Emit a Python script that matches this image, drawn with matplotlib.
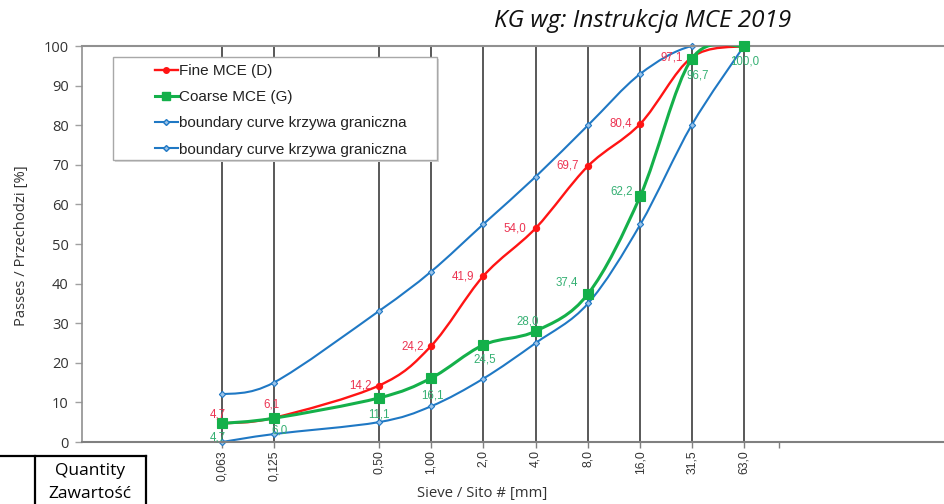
import matplotlib
matplotlib.use("Agg")
import matplotlib.pyplot as plt
import numpy as np
from matplotlib.path import Path
from matplotlib.patches import PathPatch, Rectangle
from matplotlib.lines import Line2D
from matplotlib.ticker import NullLocator, FixedLocator, FixedFormatter

# sieve sizes [mm] and their labels
sieves = [0.063, 0.125, 0.5, 1.0, 2.0, 4.0, 8.0, 16.0, 31.5, 63.0]
sieve_labels = ["0,063", "0,125", "0,50", "1,00", "2,0", "4,0", "8,0", "16,0", "31,5", "63,0"]

# passing [%]
fine_mce = [4.7, 6.1, 14.2, 24.2, 41.9, 54.0, 69.7, 80.4, 97.1, 100.0]
coarse_mce = [4.7, 6.0, 11.1, 16.1, 24.5, 28.0, 37.4, 62.2, 96.7, 100.0]
upper_bound = [12, 15, 33, 43, 55, 67, 80, 93, 100, 100]
lower_bound = [0, 2, 5, 9, 16, 25, 35, 55, 80, 100]

RED = "#ff1414"
GREEN = "#14b04a"
BLUE = "#1f78c4"
RED_TXT = "#ec3452"
GREEN_TXT = "#35b073"

W, H = 944, 504
PPX = 0.72  # points per pixel at dpi 100


def smooth_path(xs, ys):
    # excel-like smoothed line: catmull-rom -> cubic bezier, in log2(x) space
    lx = np.log2(xs)
    y = np.asarray(ys, dtype=float)
    n = len(lx)
    verts = [(xs[0], y[0])]
    codes = [Path.MOVETO]
    for i in range(n - 1):
        i0 = max(i - 1, 0)
        i3 = min(i + 2, n - 1)
        c1 = (lx[i] + (lx[i + 1] - lx[i0]) / 6, y[i] + (y[i + 1] - y[i0]) / 6)
        c2 = (lx[i + 1] - (lx[i3] - lx[i]) / 6, y[i + 1] - (y[i3] - y[i]) / 6)
        verts += [(2 ** c1[0], c1[1]), (2 ** c2[0], c2[1]), (xs[i + 1], y[i + 1])]
        codes += [Path.CURVE4] * 3
    return Path(verts, codes)


fig = plt.figure(figsize=(W / 100, H / 100), dpi=100)
ax = fig.add_axes([82 / W, 1 - 442 / H, 1 - 82 / W, (442 - 46) / H])

ax.set_xscale("log", base=2)
octave = (744 - 222) / np.log2(63 / 0.063)
ax.set_xlim(0.063 / 2 ** (140 / octave), 63 * 2 ** (200 / octave))
ax.set_ylim(0, 100)

# vertical sieve lines
for s in sieves:
    ax.axvline(s, color="#3c3c3c", lw=1.2, zorder=1)

series = [
    (upper_bound, BLUE, 1.5, "D", 3.2, "#9cc3e8", 2),
    (lower_bound, BLUE, 1.5, "D", 3.2, "#9cc3e8", 2),
    (fine_mce, RED, 1.7, "o", 4.5, RED, 3),
    (coarse_mce, GREEN, 2.2, "s", 6.5, GREEN, 4),
]
for vals, col, lw, mk, ms, mfc, z in series:
    ax.add_patch(PathPatch(smooth_path(sieves, vals), facecolor="none", edgecolor=col,
                           lw=lw, zorder=z, capstyle="round", joinstyle="round"))
    ax.plot(sieves, vals, linestyle="none", marker=mk, ms=ms, mfc=mfc, mec=col,
            mew=0.8, zorder=z + 0.1, clip_on=False)

# data labels (offsets in pixels)
red_off = [(-4, 9, "center"), (-2, 13, "center"), (-7, 0, "right"), (-7, 0, "right"),
           (-9, 0, "right"), (-9, 0, "right"), (-9, 0, "right"), (-8, 0, "right"),
           (-9, 0, "right")]
for s, v, (dx, dy, ha) in zip(sieves, fine_mce, red_off):
    ax.annotate(f"{v:.1f}".replace(".", ","), xy=(s, v), xytext=(dx * PPX, dy * PPX),
                textcoords="offset points", ha=ha, va="center", fontsize=8.3,
                color=RED_TXT, family="Liberation Sans", zorder=6)

green_off = [(-4, -14, "center"), (6, -12, "center"), (0, -16, "center"),
             (2, -17, "center"), (1, -15, "center"), (-8, 10, "center"),
             (-10, 11, "right"), (-8, 4, "right"), (6, -16, "center"), (1, -16, "center")]
for s, v, (dx, dy, ha) in zip(sieves, coarse_mce, green_off):
    ax.annotate(f"{v:.1f}".replace(".", ","), xy=(s, v), xytext=(dx * PPX, dy * PPX),
                textcoords="offset points", ha=ha, va="center", fontsize=8.3,
                color=GREEN_TXT, family="Liberation Sans", zorder=6)

# axes styling
ax.xaxis.set_minor_locator(NullLocator())
ax.xaxis.set_major_locator(FixedLocator(sieves + [100.0]))
ax.xaxis.set_major_formatter(FixedFormatter(sieve_labels + [""]))
ax.set_yticks(np.arange(0, 101, 10))
ax.tick_params(axis="x", direction="out", length=4, width=1, color="#808080", pad=2,
               labelsize=8.8, labelcolor="#333333", labelrotation=90)
ax.tick_params(axis="y", direction="out", length=5, width=1, color="#a0a0a0", pad=4.5,
               labelsize=10.5, labelcolor="#333333")
for lab in ax.get_xticklabels():
    lab.set_family("Liberation Sans")
for lab in ax.get_yticklabels():
    lab.set_family("Open Sans")

ax.spines["right"].set_visible(False)
ax.spines["left"].set_color("#909090")
ax.spines["left"].set_linewidth(1.2)
ax.spines["bottom"].set_color("#808080")
ax.spines["bottom"].set_linewidth(1.5)
ax.spines["top"].set_color("#909090")
ax.spines["top"].set_linewidth(1.5)

# legend with own frame
lx0, ly0, lx1, ly1 = 113, 57, 437, 160
ax.add_patch(Rectangle((lx0 / W + 2 / W, 1 - ly1 / H - 2 / H), (lx1 - lx0) / W, (ly1 - ly0) / H,
                       transform=fig.transFigure, facecolor="#d8d8d8", edgecolor="none",
                       zorder=7, clip_on=False))
ax.add_patch(Rectangle((lx0 / W, 1 - ly1 / H), (lx1 - lx0) / W, (ly1 - ly0) / H,
                       transform=fig.transFigure, facecolor="white", edgecolor="#a8a8a8",
                       lw=1, zorder=7.5, clip_on=False))
handles = [
    Line2D([0], [0], color=RED, lw=1.7, marker="o", ms=4, mfc=RED, mec=RED),
    Line2D([0], [0], color=GREEN, lw=2.2, marker="s", ms=5.5, mfc=GREEN, mec=GREEN),
    Line2D([0], [0], color=BLUE, lw=1.5, marker="D", ms=3, mfc="#9cc3e8", mec=BLUE),
    Line2D([0], [0], color=BLUE, lw=1.5, marker="D", ms=3, mfc="#9cc3e8", mec=BLUE),
]
labels = ["Fine MCE (D)", "Coarse MCE (G)",
          "boundary curve krzywa graniczna", "boundary curve krzywa graniczna"]
leg = ax.legend(handles, labels, loc="upper left", bbox_to_anchor=(155 / W, 1 - 64 / H),
                bbox_transform=fig.transFigure, frameon=False, borderpad=0,
                borderaxespad=0, handlelength=1.5, handletextpad=0.1,
                labelspacing=0.8, prop={"family": "Liberation Sans", "size": 11})
leg.set_zorder(8)
for t in leg.get_texts():
    t.set_color("#222222")

# titles
fig.text(643 / W, 1 - 21 / H, "KG wg: Instrukcja MCE 2019", ha="center", va="center",
         fontsize=17.5, style="italic", family="Open Sans", color="#111111")
fig.text(22 / W, 1 - 246 / H, "Passes / Przechodzi [%]", rotation=90, ha="center",
         va="center", fontsize=10.6, family="Open Sans", color="#333333")
fig.text(482 / W, 1 - 494 / H, "Sieve / Sito # [mm]", ha="center", va="center",
         fontsize=10.7, family="Open Sans", color="#333333")

# table fragment at bottom left
for (x0, y0, x1, y1) in [(0, 456, 146, 456), (35, 456, 35, 504), (146, 456, 146, 504)]:
    fig.add_artist(Line2D([x0 / W, x1 / W], [1 - y0 / H, 1 - y1 / H],
                          transform=fig.transFigure, color="black", lw=1.6))
fig.text(90 / W, 1 - 471 / H, "Quantity", ha="center", va="center", fontsize=12.5,
         family="Open Sans", color="black")
fig.text(90 / W, 1 - 494 / H, "Zawartość", ha="center", va="center", fontsize=12.5,
         family="Open Sans", color="black")

fig.savefig("out.png", dpi=100)
